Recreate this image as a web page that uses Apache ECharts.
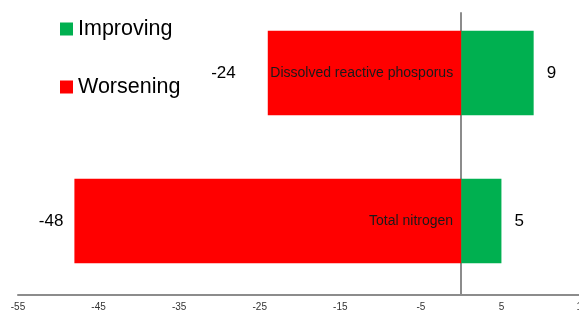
<!DOCTYPE html>
<html>
<head>
<meta charset="utf-8">
<script src="https://cdn.jsdelivr.net/npm/echarts@6/dist/echarts.min.js"></script>
<style>
  html, body { margin: 0; padding: 0; background: #fff; }
  #chart { width: 579px; height: 314px; }
</style>
</head>
<body>
<div id="chart"></div>
<script>
// data
const categories = ['Total nitrogen', 'Dissolved reactive phosporus'];
const improving = [5, 9];
const worsening = [-48, -24];
const labelGaps = [11, 32]; // distance of the red value labels from bar ends

let myChart = echarts.init(document.getElementById('chart'));

const fontFam = '"Liberation Sans", Arial, sans-serif';
const lineGray = '#8c8c8c';

let option = {
    animation: false,
    legend: {
        data: ['Improving', 'Worsening'],
        orient: 'vertical',
        left: 55,
        top: 13,
        itemGap: 36,
        itemWidth: 13,
        itemHeight: 13,
        icon: 'rect',
        textStyle: { fontSize: 21.5, color: '#000', fontFamily: fontFam }
    },
    grid: [
        // bars
        { left: 18, right: -3, top: -1, bottom: 19, outerBoundsMode: 'none', containLabel: false },
        // only for the zero line, which starts a bit lower than the bar area
        { left: 18, right: -3, top: 13, bottom: 19, outerBoundsMode: 'none', containLabel: false }
    ],
    xAxis: [
        {
            type: 'value',
            gridIndex: 0,
            min: -55,
            max: 15,
            interval: 10,
            splitLine: { show: false },
            axisTick: { show: false },
            axisLine: { show: true, lineStyle: { color: lineGray, width: 2 } },
            axisLabel: { fontSize: 10, color: '#333', margin: 7, fontFamily: fontFam }
        },
        {
            type: 'value',
            gridIndex: 1,
            min: -55,
            max: 15,
            interval: 10,
            splitLine: { show: false },
            axisTick: { show: false },
            axisLine: { show: false },
            axisLabel: { show: false }
        }
    ],
    yAxis: [
        {
            type: 'category',
            gridIndex: 0,
            data: categories,
            axisTick: { show: false },
            axisLabel: { show: false },
            axisLine: { show: false }
        },
        {
            type: 'value',
            gridIndex: 1,
            min: 0,
            max: 1,
            splitLine: { show: false },
            axisTick: { show: false },
            axisLabel: { show: false },
            axisLine: { show: true, onZero: true, lineStyle: { color: lineGray, width: 2 } }
        }
    ],
    series: [
        {
            name: 'Improving',
            type: 'bar',
            barWidth: '57%',
            barGap: '-100%',
            itemStyle: { color: '#00B050' },
            label: { show: true, position: 'right', distance: 13, fontSize: 17, color: '#000', fontFamily: fontFam },
            data: improving
        },
        {
            name: 'Worsening',
            type: 'bar',
            barWidth: '57%',
            itemStyle: { color: '#FF0000' },
            label: { show: true, position: 'left', fontSize: 17, color: '#000', fontFamily: fontFam },
            data: worsening.map((v, i) => ({ value: v, label: { distance: labelGaps[i] } }))
        },
        {
            // category names written inside the red bars
            name: 'names',
            type: 'bar',
            barWidth: '57%',
            silent: true,
            itemStyle: { color: 'rgba(0,0,0,0)' },
            label: {
                show: true, position: 'insideRight', distance: 8, formatter: '{b}',
                fontSize: 14, color: '#1a1a1a', fontFamily: fontFam
            },
            data: worsening
        }
    ]
};

myChart.setOption(option);
</script>
</body>
</html>
